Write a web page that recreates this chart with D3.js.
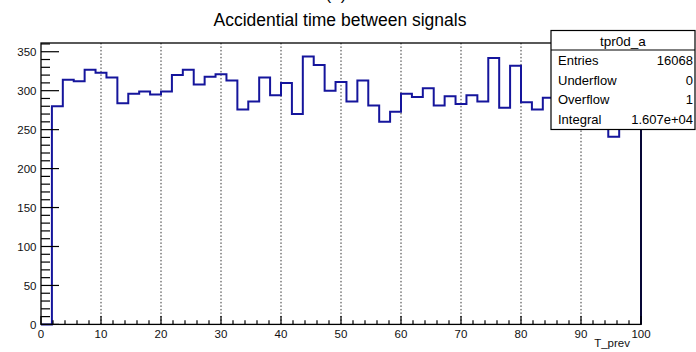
<!DOCTYPE html>
<html>
<head>
<meta charset="utf-8">
<script src="https://cdn.jsdelivr.net/npm/d3@7"></script>
<style>
  html, body { margin: 0; padding: 0; background: #fff; }
  svg { display: block; }
  text { font-family: "Liberation Sans", Arial, Helvetica, sans-serif; }
</style>
</head>
<body>
<svg id="chart" width="696" height="352"></svg>
<script>
// Histogram definition: 55 equal bins over [0, 100]
const histName = "tpr0d_a";
const histTitle = "Accidential time between signals";
const xTitle = "T_prev";
const xMin = 0, xMax = 100, nBins = 55;
const counts = [0, 280, 314, 312, 327, 323, 317, 284, 296, 299, 295, 299, 320, 327, 308,
  318, 321, 313, 276, 286, 317, 294, 310, 270, 344, 333, 300, 311, 286, 313, 281, 260,
  273, 296, 292, 303, 281, 293, 283, 294, 286, 342, 278, 332, 285, 276, 291, 288, 282,
  279, 290, 285, 241, 283, 278];
const xTicks = [0, 10, 20, 30, 40, 50, 60, 70, 80, 90, 100];
const yTicks = [0, 50, 100, 150, 200, 250, 300, 350];
const statLabels = ["Entries", "Underflow", "Overflow", "Integral"];
const statValues = ["16068", "0", "1", "1.607e+04"];

const svg = d3.select("#chart");
const frame = { left: 41, right: 641, top: 43, bottom: 324.4 };

const x = d3.scaleLinear().domain([xMin, xMax]).range([frame.left, frame.right]);
const yMax = d3.max(counts) * 1.05;
const y = d3.scaleLinear().domain([0, yMax]).range([frame.bottom, frame.top]);

svg.append("rect").attr("width", 696).attr("height", 352).attr("fill", "#fff");

// Partly clipped pad label at the very top
svg.append("text").attr("x", 336).attr("y", 0).attr("text-anchor", "middle")
  .attr("font-size", 17).attr("fill", "#000").text("(a)");

// Title
svg.append("text").attr("x", 340).attr("y", 26).attr("text-anchor", "middle")
  .attr("font-size", 17.5).attr("fill", "#000").text(histTitle);

// Vertical dotted grid at major x ticks
svg.append("g").selectAll("line")
  .data(xTicks.filter(t => t > xMin && t < xMax))
  .join("line")
  .attr("x1", d => x(d)).attr("x2", d => x(d))
  .attr("y1", frame.bottom).attr("y2", frame.top)
  .attr("stroke", "#333").attr("stroke-width", 1)
  .attr("stroke-dasharray", "1.5,2");

// Histogram outline (step line)
const binW = (xMax - xMin) / nBins;
const pts = [[x(xMin), y(0)]];
counts.forEach((c, i) => {
  pts.push([x(xMin + i * binW), y(c)]);
  pts.push([x(xMin + (i + 1) * binW), y(c)]);
});
pts.push([x(xMax), y(0)]);
svg.append("path")
  .attr("d", d3.line()(pts))
  .attr("fill", "none")
  .attr("stroke", "#15159c")
  .attr("stroke-width", 2)
  .attr("stroke-linejoin", "miter");

// Axes: ticks drawn inward from frame (ROOT style)
const yAxis = d3.axisLeft(y)
  .tickValues(d3.range(0, yMax, 10))
  .tickSize(0)
  .tickFormat("");
const yg = svg.append("g");
yg.selectAll("line.minor").data(d3.range(0, yMax, 10)).join("line")
  .attr("x1", frame.left).attr("x2", d => frame.left + (d % 50 === 0 ? 18 : 9))
  .attr("y1", d => y(d)).attr("y2", d => y(d))
  .attr("stroke", "#000").attr("stroke-width", 1.2);
yg.selectAll("text").data(yTicks).join("text")
  .attr("x", 36.5).attr("y", d => y(d)).attr("dy", "0.36em")
  .attr("text-anchor", "end").attr("font-size", 11.5).attr("fill", "#111")
  .text(d => d);

const xg = svg.append("g");
xg.selectAll("line").data(d3.range(xMin, xMax + 0.001, 2)).join("line")
  .attr("x1", d => x(d)).attr("x2", d => x(d))
  .attr("y1", frame.bottom).attr("y2", d => frame.bottom - (d % 10 === 0 ? 8.5 : 4.2))
  .attr("stroke", "#000").attr("stroke-width", 1.2);
xg.selectAll("text").data(xTicks).join("text")
  .attr("x", d => x(d)).attr("y", 337.5)
  .attr("text-anchor", "middle").attr("font-size", 11.5).attr("fill", "#111")
  .text(d => d);

// Axis title
svg.append("text").attr("x", 630).attr("y", 346.5).attr("text-anchor", "end")
  .attr("font-size", 11.5).attr("fill", "#111").text(xTitle);

// Frame
svg.append("rect")
  .attr("x", frame.left).attr("y", frame.top)
  .attr("width", frame.right - frame.left).attr("height", frame.bottom - frame.top)
  .attr("fill", "none").attr("stroke", "#000").attr("stroke-width", 1.3);

// Statistics box
const box = { x: 551, y: 30.5, w: 144, h: 99 };
const sb = svg.append("g");
sb.append("rect").attr("x", box.x).attr("y", box.y).attr("width", box.w).attr("height", box.h)
  .attr("fill", "#fff").attr("stroke", "#000").attr("stroke-width", 1.2);
sb.append("line").attr("x1", box.x).attr("x2", box.x + box.w)
  .attr("y1", 50).attr("y2", 50).attr("stroke", "#000").attr("stroke-width", 1.2);
sb.append("text").attr("x", box.x + box.w / 2).attr("y", 45.5).attr("text-anchor", "middle")
  .attr("font-size", 13.5).attr("fill", "#000").text(histName);
const rowY = [65, 84.7, 104.3, 123.5];
sb.selectAll("text.lab").data(statLabels).join("text").attr("class", "lab")
  .attr("x", 558).attr("y", (d, i) => rowY[i])
  .attr("font-size", 13).attr("fill", "#000").text(d => d);
sb.selectAll("text.val").data(statValues).join("text").attr("class", "val")
  .attr("x", 693).attr("y", (d, i) => rowY[i]).attr("text-anchor", "end")
  .attr("font-size", 13).attr("fill", "#000").text(d => d);
</script>
</body>
</html>
